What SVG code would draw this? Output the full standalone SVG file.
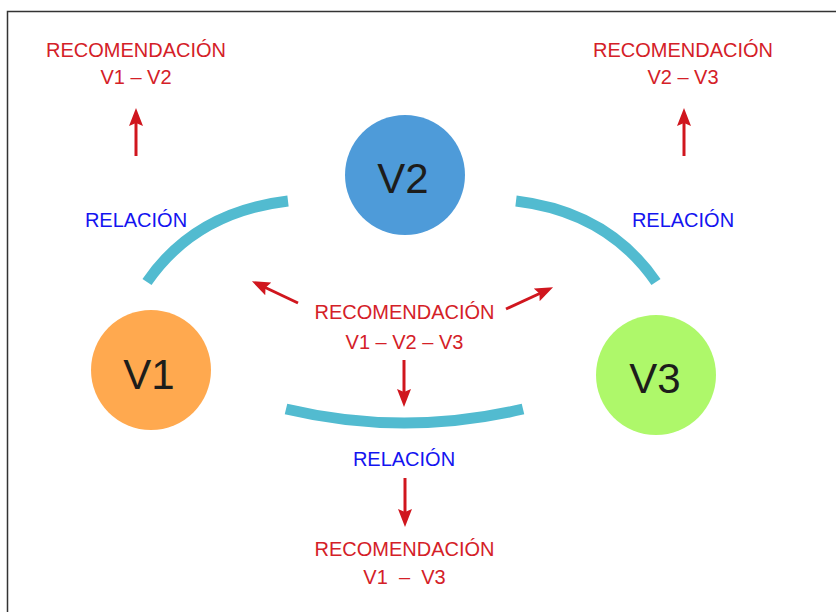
<svg xmlns="http://www.w3.org/2000/svg" width="836" height="612" viewBox="0 0 836 612">
<style>
.rec{font-family:"Liberation Sans",Arial,sans-serif;font-size:20px;fill:#D42027;text-anchor:middle}
.rel{font-family:"Liberation Sans",Arial,sans-serif;font-size:20px;fill:#1414F0;text-anchor:middle}
.vt{font-family:"Liberation Sans",Arial,sans-serif;font-size:42px;fill:#1d1d1b;text-anchor:middle}
.arc{fill:none;stroke:#52BBD0;stroke-width:11}
.arr{stroke:#D0161E;stroke-width:3;fill:none;marker-end:url(#ah)}
</style>
<defs>
<marker id="ah" markerUnits="userSpaceOnUse" markerWidth="20" markerHeight="14" refX="8" refY="7" orient="auto">
<path d="M0,0 L18,7 L0,14 L3,7 Z" fill="#D0161E"/>
</marker>
</defs>
<rect x="7.5" y="11.5" width="840" height="620" fill="#fff" stroke="#333" stroke-width="1.5"/>
<g id="connectors">
<path class="arc" d="M147,282 Q195,212 288,201"/>
<path class="arc" d="M656,282 Q608,212 516,201"/>
<path class="arc" d="M286,409 Q404,437 523,409"/>
<line class="arr" x1="136" y1="156" x2="136" y2="118"/>
<line class="arr" x1="684" y1="156" x2="684" y2="118"/>
<line class="arr" x1="298" y1="303" x2="261" y2="285.5"/>
<line class="arr" x1="506" y1="309" x2="544" y2="291.5"/>
<line class="arr" x1="404" y1="360" x2="404" y2="397"/>
<line class="arr" x1="405" y1="478" x2="405" y2="517"/>
</g>
<g id="V1">
<circle cx="151" cy="370" r="60" fill="#FFA94F"/>
<text class="vt" x="149" y="389">V1</text>
</g>
<g id="V2">
<circle cx="405" cy="175" r="60" fill="#4E9BD9"/>
<text class="vt" x="403" y="193">V2</text>
</g>
<g id="V3">
<circle cx="656" cy="375" r="60" fill="#AEF86A"/>
<text class="vt" x="655" y="393">V3</text>
</g>
<g id="rec-v1v2">
<text class="rec" x="136" y="57">RECOMENDACIÓN</text>
<text class="rec" x="136" y="84">V1 – V2</text>
</g>
<g id="rec-v2v3">
<text class="rec" x="683" y="57">RECOMENDACIÓN</text>
<text class="rec" x="683" y="84">V2 – V3</text>
</g>
<g id="rec-v1v2v3">
<text class="rec" x="404.5" y="319">RECOMENDACIÓN</text>
<text class="rec" x="404.5" y="349">V1 – V2 – V3</text>
</g>
<g id="rec-v1v3">
<text class="rec" x="404.5" y="556">RECOMENDACIÓN</text>
<text class="rec" x="404.5" y="584">V1 &#160;– &#160;V3</text>
</g>
<g id="rel-left"><text class="rel" x="136" y="227">RELACIÓN</text></g>
<g id="rel-right"><text class="rel" x="683" y="227">RELACIÓN</text></g>
<g id="rel-bottom"><text class="rel" x="404" y="466">RELACIÓN</text></g>
</svg>
